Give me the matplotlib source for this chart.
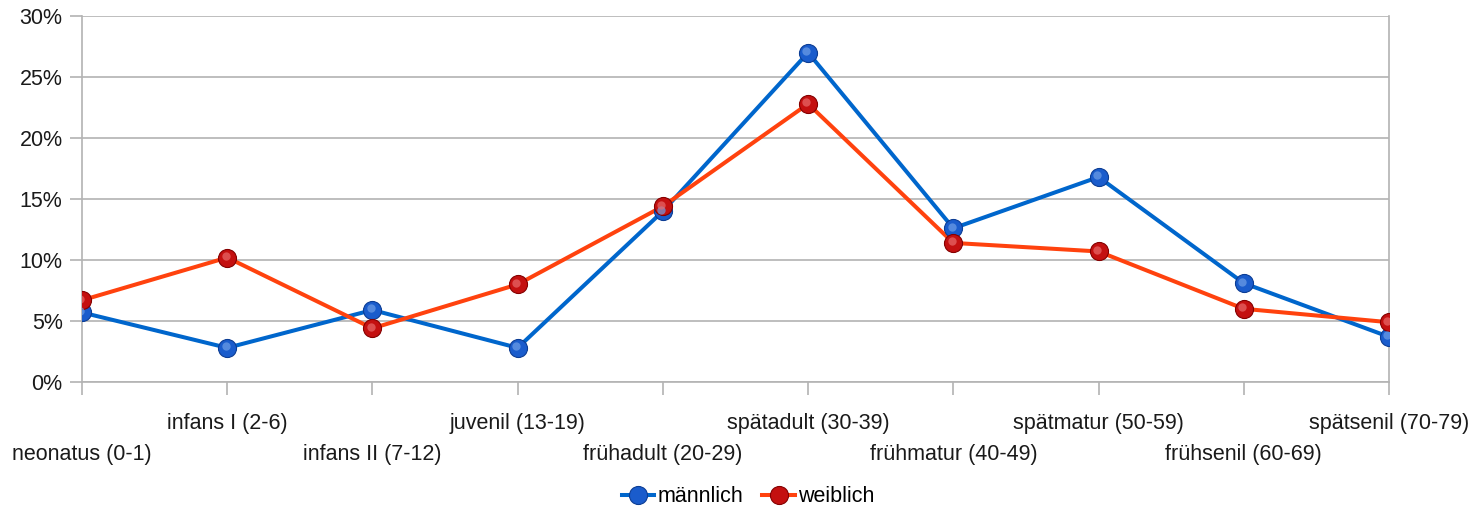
import matplotlib
matplotlib.use('Agg')
import matplotlib.pyplot as plt
from matplotlib.transforms import ScaledTranslation
from matplotlib.ticker import FuncFormatter
from matplotlib.lines import Line2D

plt.rcParams['font.family'] = ['Liberation Sans', 'DejaVu Sans']

categories = ['neonatus (0-1)', 'infans I (2-6)', 'infans II (7-12)', 'juvenil (13-19)',
              'frühadult (20-29)', 'spätadult (30-39)', 'frühmatur (40-49)',
              'spätmatur (50-59)', 'frühsenil (60-69)', 'spätsenil (70-79)']
maennlich = [5.7, 2.8, 5.9, 2.8, 14.0, 27.0, 12.6, 16.8, 8.1, 3.7]
weiblich = [6.7, 10.2, 4.4, 8.0, 14.4, 22.8, 11.4, 10.7, 6.0, 4.9]

# (line, marker face, marker edge, highlight)
styles = {
    'männlich': ('#0066cc', '#1a5ccc', '#0c3d94', '#6f9fe6'),
    'weiblich': ('#ff420e', '#c41010', '#850000', '#e86a6a'),
}

fig = plt.figure(figsize=(14.81, 5.09), dpi=100)
ax = fig.add_axes([82 / 1481, 1 - 382 / 509, (1389 - 82) / 1481, (382 - 16) / 509])

x = list(range(len(categories)))
hl = ax.transData + ScaledTranslation(-1.2 / 72, 1.2 / 72, fig.dpi_scale_trans)
handles = []
for name, vals in [('männlich', maennlich), ('weiblich', weiblich)]:
    lc, fc, ec, hc = styles[name]
    ax.plot(x, vals, color=lc, lw=2.9, zorder=3)
    ax.plot(x, vals, ls='none', marker='o', ms=13, mfc=fc, mec=ec, mew=0.8, zorder=4)
    ax.plot(x, vals, ls='none', marker='o', ms=6, mfc=hc, mec='none', alpha=0.7,
            zorder=5, transform=hl)
    handles.append(Line2D([], [], color=lc, lw=2.9, marker='o', ms=13, mfc=fc,
                          mec=ec, mew=0.8, label=name))

ax.set_xlim(0, len(categories) - 1)
ax.set_ylim(0, 30)
ax.set_yticks(range(0, 31, 5))
ax.yaxis.set_major_formatter(FuncFormatter(lambda v, p: f'{v:.0f}%'))
ax.grid(axis='y', color='#b3b3b3', lw=1.2)
ax.set_axisbelow(True)

ax.set_xticks(x)
ax.set_xticklabels([])
for i, lab in enumerate(categories):
    dy = -0.113 if i % 2 else -0.198
    ax.text(i, dy, lab, transform=ax.get_xaxis_transform(), ha='center', va='center',
            fontsize=15.5, color='#1a1a1a')

ax.spines['top'].set_visible(False)
for s in ['left', 'right', 'bottom']:
    ax.spines[s].set_color('#b3b3b3')
    ax.spines[s].set_linewidth(1.2)
ax.tick_params(axis='both', color='#b3b3b3', width=1.2, length=9, labelsize=15.5,
               labelcolor='#1a1a1a')
ax.tick_params(axis='y', pad=5)

fig.legend(handles=handles, loc='center', bbox_to_anchor=(748 / 1481, 1 - 497 / 509),
           ncol=2, frameon=False, fontsize=15.5, handlelength=1.5, handletextpad=0.15,
           columnspacing=0.9)

fig.savefig('out.png', dpi=100)
